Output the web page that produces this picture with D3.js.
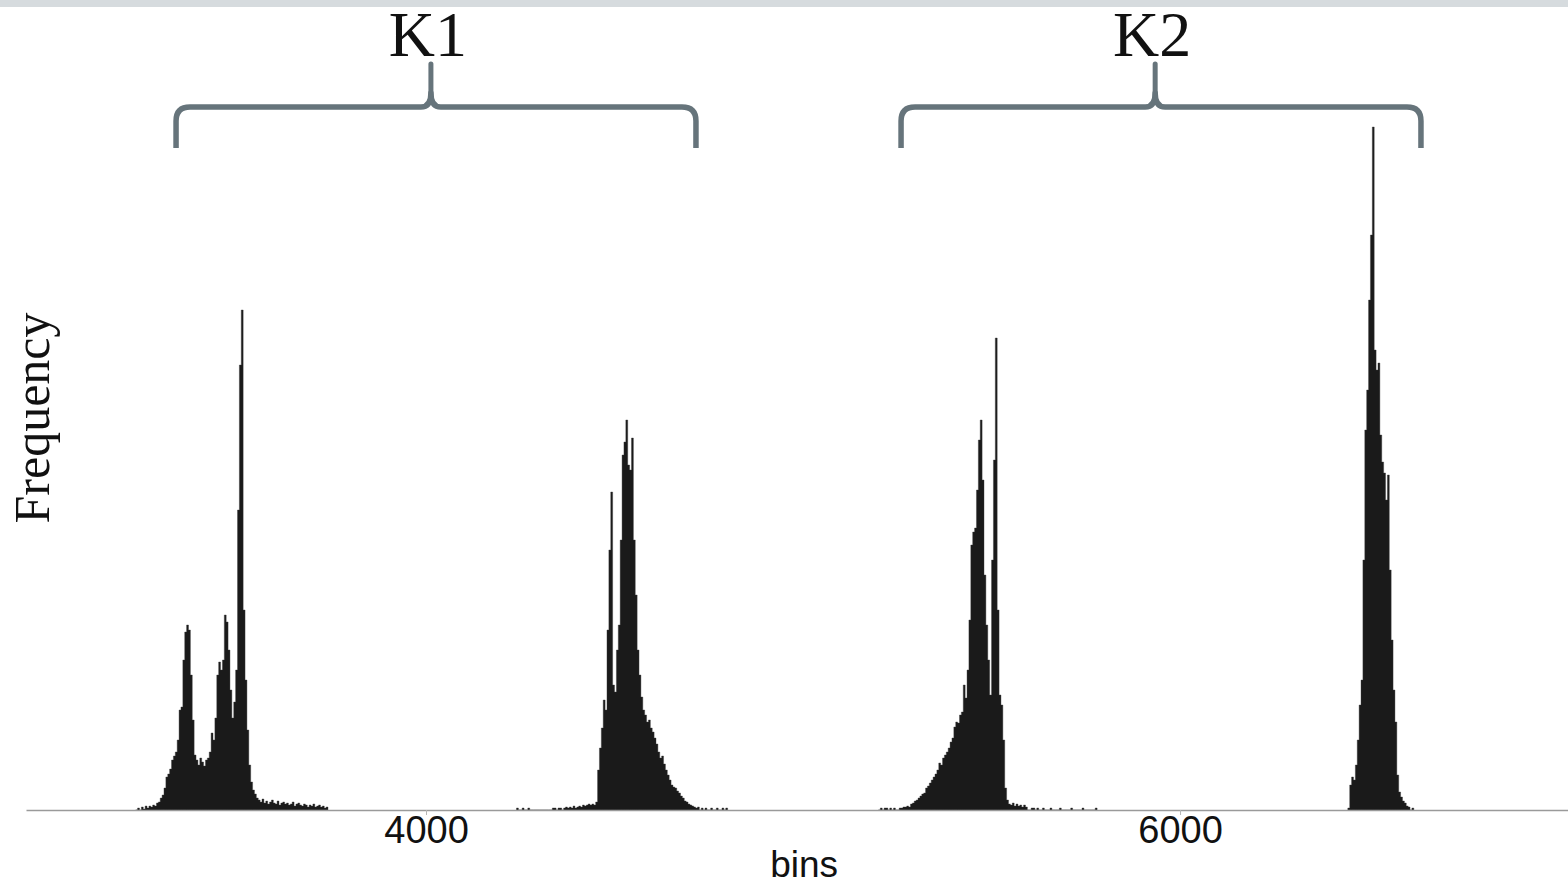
<!DOCTYPE html>
<html>
<head>
<meta charset="utf-8">
<script src="https://cdn.jsdelivr.net/npm/d3@7"></script>
<style>
  html, body { margin: 0; padding: 0; background: #fff; }
  svg { display: block; }
</style>
</head>
<body>
<div id="chart"></div>
<script>
'use strict';

// histogram bins, 5 units wide, one array per peak group
var binWidth = 5;

var k1aStart = 3230;
var k1aCounts = [0, 2, 0, 3, 1, 4, 2, 4, 3, 5, 4, 7, 8,
  12, 15, 22, 33, 36, 41, 50, 54, 58, 70, 100, 103,
  150, 178, 185, 180, 135, 90, 55,
  50, 45, 52, 48, 44, 50, 52, 58,
  77, 70, 92, 135, 148, 140, 150, 195, 188, 160, 120, 92, 108, 140,
  300, 445, 500, 200, 130, 80, 45, 28, 20, 16, 12,
  10, 8, 11, 7, 9, 6, 8, 10, 7, 6, 9, 5, 7, 8, 6, 7, 5, 6, 8, 4, 6, 7, 5, 4, 6, 5, 3, 5, 4, 6, 3, 4, 5, 3, 4, 2, 3];

var k1bStart = 4240;
var k1bCounts = [2, 0, 0, 2, 0, 0, 2, 0, 0, 0, 0, 0, 0, 0, 0, 0, 0, 0, 0, 2,
  2, 0, 2, 2, 0, 2, 3, 2, 3, 2, 4, 2, 3, 4, 3, 5, 4, 5, 6, 5,
  6, 5, 8, 40, 62, 82, 110, 100, 180, 260, 318, 125, 118, 160, 185, 270, 355, 368, 390, 345,
  340, 372, 270, 215, 160, 135, 113, 100, 95, 88, 90, 82, 78, 72, 66, 58, 52, 54, 46, 40,
  35, 30, 25, 23, 22, 19, 17, 14, 12, 9, 8, 6, 5, 4, 3, 2, 3, 0, 2, 0,
  2, 0, 0, 2, 0, 0, 2, 0, 0, 2, 0, 2];

var k2aStart = 5200;
var k2aCounts = [0, 2, 0, 2, 2, 0, 2, 0, 2, 0, 0, 2, 2, 3, 3, 4, 3, 6, 7, 9,
  10, 12, 14, 16, 17, 22, 24, 27, 30, 33, 36, 40, 47, 45, 52, 55, 58, 62, 68, 72,
  83, 88, 87, 95, 98, 125, 112, 140, 190, 265, 278, 282, 320, 370, 390, 330, 235, 185, 150, 115,
  250, 350, 472, 200, 115, 105, 70, 22, 10, 6, 5, 7, 4, 6, 4, 5, 3, 5, 3, 0,
  0, 2, 2, 0, 2, 0, 0, 2, 0, 0, 0, 2, 0, 0, 0, 0, 2, 0, 0, 0,
  0, 0, 2, 0, 0, 0, 0, 0, 2, 0, 0, 0, 0, 0, 0, 2];

var k2bStart = 6445;
var k2bCounts = [2, 25, 33, 30, 45, 70, 105, 130, 250, 380, 420, 510, 575, 683, 460, 440, 447, 375, 348, 337,
  310, 335, 240, 170, 120, 88, 35, 18, 13, 9, 7, 4, 3, 0, 2];

var tickValues = [4000, 6000];
var groupLabels = ['K1', 'K2'];
var groupFrom = [3337, 5260];
var groupTo = [4716, 6639];
var groupTip = [4013, 5934];

var width = 1568, height = 884;
var baseY = 810;

var svg = d3.select('#chart').append('svg')
  .attr('width', width)
  .attr('height', height);

// grey strip along the top edge
svg.append('rect')
  .attr('x', 0).attr('y', 0)
  .attr('width', width).attr('height', 7)
  .attr('fill', '#d6dbde');

var x = d3.scaleLinear().domain([2939, 7029]).range([26, 1568]);
var y = d3.scaleLinear().domain([0, 700]).range([baseY, baseY - 700]);

// step points for one run of bins, closed at the right edge
function toSteps(start, counts) {
  var pts = counts.map(function (c, i) {
    return { x0: start + i * binWidth, count: c };
  });
  pts.push({ x0: start + counts.length * binWidth, count: 0 });
  return pts;
}

var runs = [
  toSteps(k1aStart, k1aCounts),
  toSteps(k1bStart, k1bCounts),
  toSteps(k2aStart, k2aCounts),
  toSteps(k2bStart, k2bCounts)
];

var area = d3.area()
  .curve(d3.curveStepAfter)
  .x(function (d) { return x(d.x0); })
  .y0(y(0))
  .y1(function (d) { return y(d.count); });

svg.append('g')
  .selectAll('path')
  .data(runs)
  .enter().append('path')
  .attr('d', area)
  .attr('fill', '#1a1a1a')
  .attr('stroke', '#3a3a3a')
  .attr('stroke-width', 0.4);

// x axis
var axis = svg.append('g')
  .attr('transform', 'translate(0,' + baseY + ')')
  .call(d3.axisBottom(x).tickValues(tickValues).tickSize(5).tickSizeOuter(0).tickPadding(1).tickFormat(d3.format('d')));

axis.select('.domain').attr('stroke', '#9a9a9a').attr('stroke-width', 1.3);
axis.selectAll('.tick line').attr('stroke', '#b5b5b5');
axis.selectAll('.tick text')
  .attr('fill', '#111')
  .style('font-family', '"Liberation Sans", Arial, sans-serif')
  .style('font-size', '38px');

svg.append('text')
  .attr('x', x(5003))
  .attr('y', 877)
  .attr('text-anchor', 'middle')
  .attr('fill', '#111')
  .style('font-family', '"Liberation Sans", Arial, sans-serif')
  .style('font-size', '37px')
  .text('bins');

svg.append('text')
  .attr('transform', 'translate(49,418) rotate(-90)')
  .attr('text-anchor', 'middle')
  .attr('fill', '#111')
  .style('font-family', '"Liberation Serif", "Times New Roman", serif')
  .style('font-size', '50px')
  .text('Frequency');

// curly brackets over the two groups
var braceY = 107, braceTop = 62, braceBottom = 148;
groupLabels.forEach(function (label, i) {
  var l = x(groupFrom[i]), r = x(groupTo[i]), t = x(groupTip[i]);
  var g = svg.append('g');
  g.append('path')
    .attr('d', 'M' + l + ',' + braceBottom +
      ' L' + l + ',' + (braceY + 14) +
      ' Q' + l + ',' + braceY + ' ' + (l + 14) + ',' + braceY +
      ' L' + (t - 10) + ',' + braceY +
      ' Q' + t + ',' + braceY + ' ' + t + ',' + (braceY - 14) +
      ' Q' + t + ',' + braceY + ' ' + (t + 10) + ',' + braceY +
      ' L' + (r - 14) + ',' + braceY +
      ' Q' + r + ',' + braceY + ' ' + r + ',' + (braceY + 14) +
      ' L' + r + ',' + braceBottom)
    .attr('fill', 'none')
    .attr('stroke', '#66747b')
    .attr('stroke-width', 5.5)
    .attr('stroke-linejoin', 'round');
  g.append('line')
    .attr('x1', t).attr('x2', t)
    .attr('y1', braceY - 12).attr('y2', braceTop + 2)
    .attr('stroke', '#66747b')
    .attr('stroke-width', 5)
    .attr('stroke-linecap', 'round');
  g.append('text')
    .attr('x', t - 3)
    .attr('y', 56)
    .attr('text-anchor', 'middle')
    .attr('fill', '#111')
    .style('font-family', '"Liberation Serif", "Times New Roman", serif')
    .style('font-size', '64px')
    .text(label);
});
</script>
</body>
</html>
